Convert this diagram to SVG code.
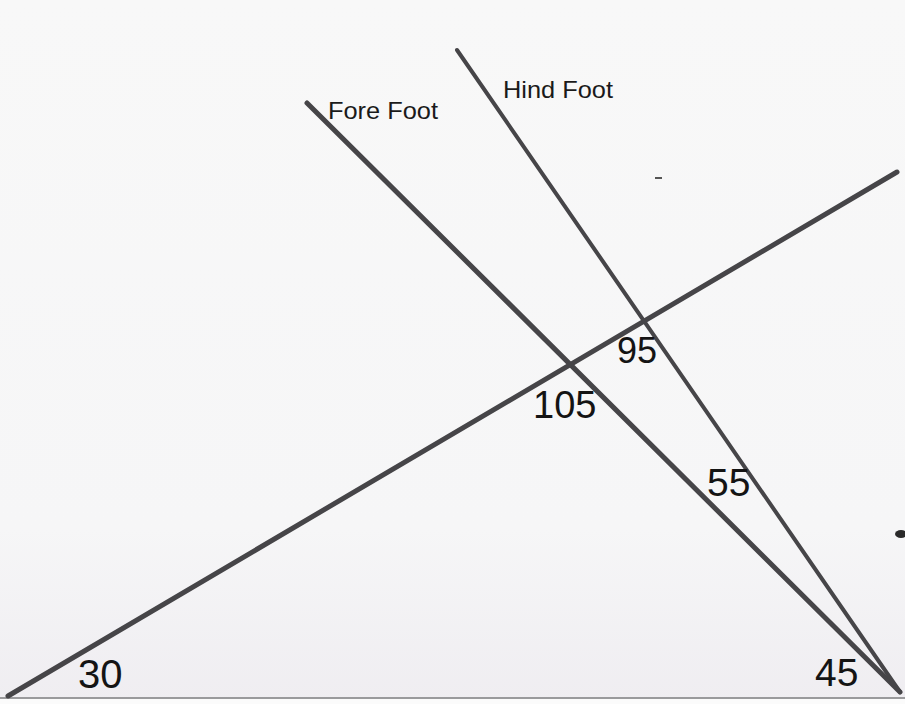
<svg xmlns="http://www.w3.org/2000/svg" width="905" height="704" viewBox="0 0 905 704">
<style>
.ln{stroke:#464548;stroke-linecap:round;fill:none}
.lbl{font-family:"Liberation Sans",Arial,sans-serif;fill:#1a1a1a}
.num{font-family:"Liberation Sans",Arial,sans-serif;fill:#141414}
</style>
<defs>
<linearGradient id="bg" x1="0" y1="0" x2="0" y2="1">
<stop offset="0" stop-color="#f8f8f8"/>
<stop offset="0.75" stop-color="#f6f6f7"/>
<stop offset="1" stop-color="#efedf1"/>
</linearGradient>
</defs>
<rect width="905" height="704" fill="url(#bg)"/>
<g id="baseline">
<line x1="0" y1="698" x2="905" y2="698" stroke="#9a9a9c" stroke-width="2"/>
<rect x="0" y="699" width="905" height="5" fill="#fbfbfb"/>
</g>
<g id="lines">
<line id="ground-line" class="ln" x1="8" y1="696" x2="897" y2="172" stroke-width="5"/>
<line id="fore-foot-line" class="ln" x1="307" y1="103" x2="900" y2="692" stroke-width="5"/>
<line id="hind-foot-line" class="ln" x1="457" y1="50" x2="900" y2="692" stroke-width="4"/>
</g>
<g id="labels">
<text class="lbl" x="328" y="119" font-size="23" textLength="110" lengthAdjust="spacingAndGlyphs">Fore Foot</text>
<text class="lbl" x="503" y="98" font-size="24" textLength="110" lengthAdjust="spacingAndGlyphs">Hind Foot</text>
</g>
<g id="angles">
<text class="num" x="617" y="363" font-size="36">95</text>
<text class="num" x="533" y="418" font-size="38">105</text>
<text class="num" x="707" y="496" font-size="39">55</text>
<text class="num" x="78" y="688" font-size="40">30</text>
<text class="num" x="815" y="686" font-size="39">45</text>
</g>
<g id="marks">
<line x1="655" y1="178" x2="662" y2="178" stroke="#555" stroke-width="2"/>
<ellipse cx="901" cy="534" rx="6" ry="4" fill="#2a2a2a"/>
</g>
</svg>
